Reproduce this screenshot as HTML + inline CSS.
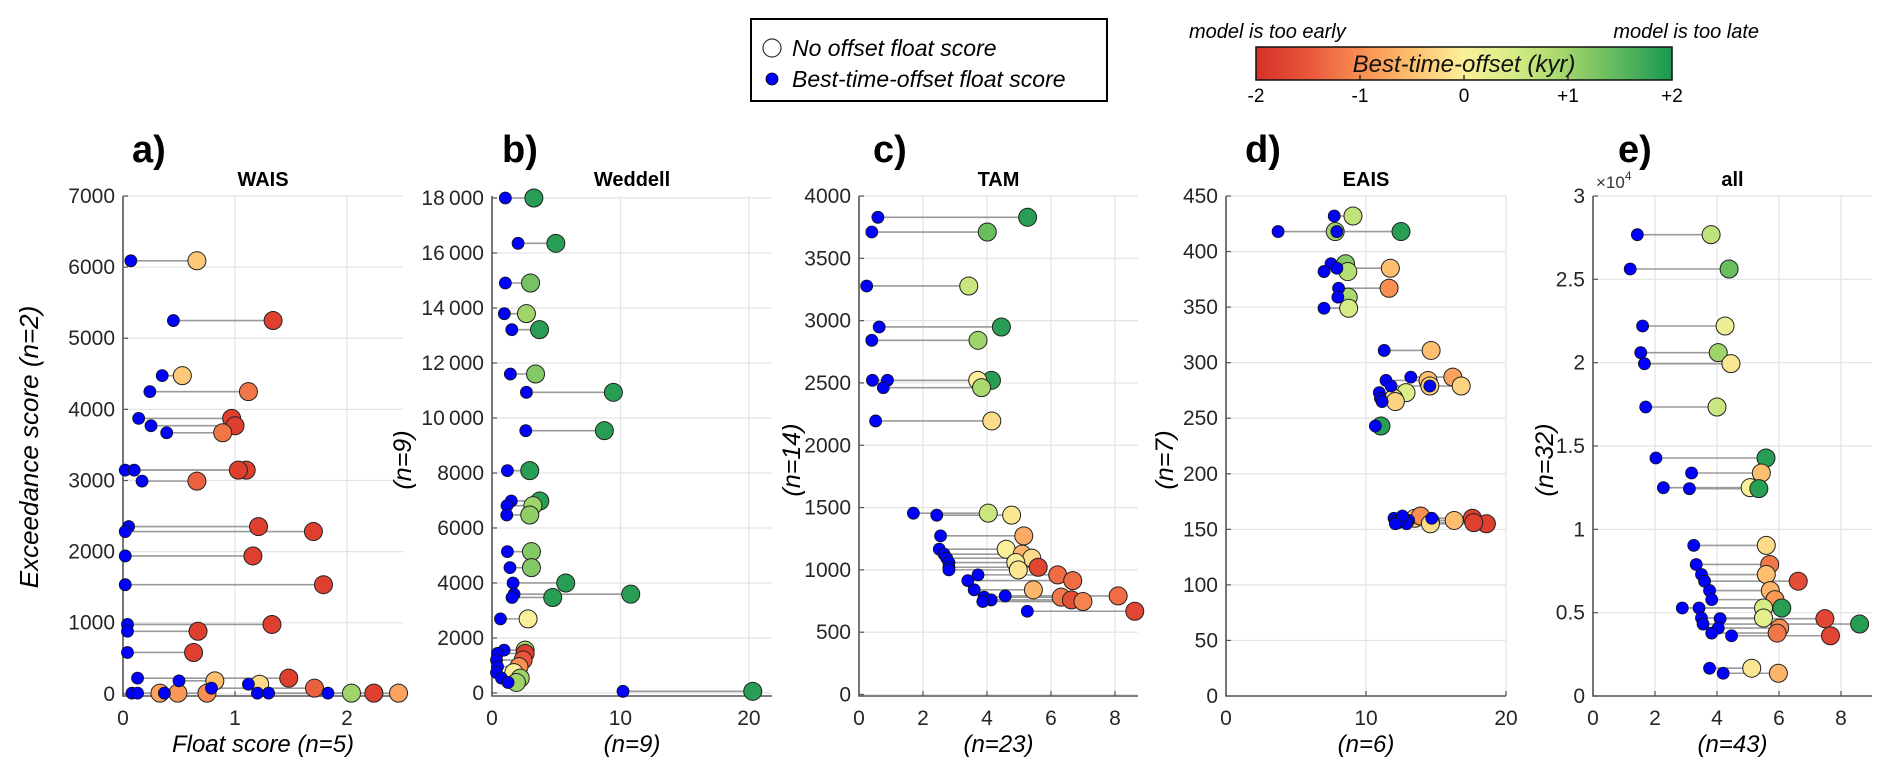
<!DOCTYPE html>
<html><head><meta charset="utf-8"><title>Float vs exceedance score</title>
<style>
html,body{margin:0;padding:0;background:#fff;}
svg{display:block;font-family:"Liberation Sans",Arial,sans-serif;}
</style></head>
<body>
<svg id="chart" width="1892" height="774" viewBox="0 0 1892 774" xmlns="http://www.w3.org/2000/svg">
<defs>
<linearGradient id="cbgrad" x1="0" x2="1" y1="0" y2="0">
<stop offset="0" stop-color="#d73027"/><stop offset="0.125" stop-color="#e8553a"/>
<stop offset="0.25" stop-color="#f98e52"/><stop offset="0.375" stop-color="#fdbf6f"/>
<stop offset="0.5" stop-color="#fbf09a"/><stop offset="0.625" stop-color="#d5ec84"/>
<stop offset="0.75" stop-color="#9fd46a"/><stop offset="0.875" stop-color="#5cb85e"/>
<stop offset="1" stop-color="#1a9850"/>
</linearGradient>
</defs>
<g>
<rect x="751" y="19" width="356" height="82" fill="#fff" stroke="#000" stroke-width="2"/>
<circle cx="772" cy="48" r="9" fill="#fff" stroke="#333" stroke-width="1.2"/>
<text x="792" y="56" font-size="23" font-style="italic" fill="#000">No offset float score</text>
<circle cx="772" cy="79" r="6" fill="#0000ff" stroke="#000" stroke-width="0.8"/>
<text x="792" y="87" font-size="23" font-style="italic" fill="#000">Best-time-offset float score</text>
</g>
<g>
<text x="1189" y="38" font-size="20" font-style="italic" fill="#000">model is too early</text>
<text x="1759" y="38" font-size="20" font-style="italic" fill="#000" text-anchor="end">model is too late</text>
<rect x="1256" y="47" width="416" height="33" fill="url(#cbgrad)" stroke="#111" stroke-width="1.5"/>
<text x="1464" y="72" font-size="24" font-style="italic" fill="#111" text-anchor="middle">Best-time-offset (kyr)</text>
<g id="cbticks"></g>
</g>
<g id="panels"></g>
</svg>
<script>
// Panel a (WAIS)
const yA = [6089,5249,4474,4249,3873,3770,3671,3146,3146,2991,2352,2282,1939,1535,976,880,582,221,183,135,80,10,10,10,10,10,10];
const blueA = [0.07,0.45,0.35,0.24,0.14,0.25,0.39,0.02,0.10,0.17,0.05,0.02,0.02,0.02,0.04,0.04,0.04,0.13,0.50,1.12,0.79,0.08,0.13,0.37,1.20,1.30,1.83];
const origA = [0.66,1.34,0.53,1.12,0.97,1.00,0.89,1.10,1.03,0.66,1.21,1.70,1.16,1.79,1.33,0.67,0.63,1.48,0.82,1.22,1.71,0.33,0.49,0.75,2.04,2.24,2.46];
const offA = [-0.4,-1.8,-0.4,-1.2,-1.8,-1.8,-1.2,-1.8,-1.8,-1.4,-1.8,-1.8,-1.8,-1.8,-1.8,-1.8,-1.8,-1.8,-0.5,-0.2,-1.4,-0.8,-0.9,-1.0,1.0,-1.8,-0.8];
// Panel b (Weddell)
const yB = [18000,16352,14909,13794,13212,11600,10933,9539,8085,6982,6812,6473,5139,4558,4000,3593,3473,2695,1557,1437,1198,958,742,539,383,60];
const blueB = [1.04,2.03,1.04,0.96,1.54,1.43,2.68,2.63,1.2,1.5,1.17,1.15,1.2,1.4,1.64,1.72,1.56,0.66,0.94,0.43,0.35,0.43,0.35,0.74,1.25,10.2];
const origB = [3.26,4.97,3.0,2.68,3.70,3.39,9.45,8.75,2.94,3.72,3.18,2.94,3.07,3.07,5.74,10.8,4.73,2.81,2.58,2.58,2.42,2.1,1.7,2.2,1.9,20.3];
const offB = [1.9,1.9,1.3,1.0,1.9,1.2,1.9,1.9,1.9,1.9,1.0,1.1,1.2,1.2,1.9,1.9,1.9,0,1.0,-1.8,-1.5,-1.0,0,1.0,1.0,1.9];
// Panel c (TAM)
const yC = [3829,3711,3278,2949,2842,2521,2521,2462,2195,1455,1439,1273,1166,1126,1094,1059,1021,1000,960,914,840,791,781,759,746,668];
const blueC = [0.59,0.40,0.24,0.63,0.40,0.42,0.89,0.76,0.52,1.70,2.43,2.55,2.51,2.66,2.74,2.81,2.81,2.81,3.72,3.4,3.6,4.57,3.91,4.13,3.87,5.26];
const origC = [5.27,4.01,3.43,4.45,3.72,4.14,3.71,3.83,4.15,4.04,4.77,5.15,4.6,5.1,5.4,4.9,5.6,4.98,6.21,6.68,5.45,8.1,6.32,6.64,7.0,8.62];
const offC = [1.9,1.4,0.6,1.9,1.0,1.9,0,0.9,-0.2,0.6,-0.1,-0.7,0,-0.6,-0.2,0,-1.7,-0.1,-1.3,-1.3,-0.6,-1.3,-1.2,-1.6,-1.1,-1.7];
// Panel d (EAIS)
const yD = [432,418,418,389,385,382,367,359,349,311,287,284,279,279,273,268,265,243,160,157,158,160,155,156,162,155];
const blueD = [7.73,3.72,7.92,7.5,7.92,7.0,8.04,7.99,7.0,11.3,13.2,11.43,14.56,11.79,10.95,11.03,11.15,10.67,12.0,12.1,13.05,14.7,12.9,12.3,12.6,12.1];
const origD = [9.07,12.5,7.8,8.54,11.74,8.7,11.65,8.73,8.76,14.65,16.2,14.43,16.8,14.56,12.86,11.98,12.1,11.07,13.5,14.6,16.3,17.6,18.6,17.7,13.9,14.6];
const offD = [0.7,1.9,1.0,1.2,-0.5,0.8,-1.0,0.9,0.5,-0.5,-0.8,-0.5,-0.3,-0.3,0.4,-0.2,-0.3,1.9,-0.4,-1.2,-0.5,-1.8,-1.8,-1.8,-1.0,-0.2];
// Panel e (all)
const yE = [27680,25620,22200,20600,19940,17340,14280,13380,12500,12440,9036,7892,7289,6888,6325,5783,5281,5281,4679,4639,4317,4076,3775,3615,1667,1365];
const blueE = [1.43,1.2,1.6,1.54,1.66,1.7,2.03,3.18,2.27,3.11,3.25,3.33,3.5,3.6,3.76,3.83,2.88,3.42,3.5,4.1,3.55,4.04,3.83,4.47,3.76,4.2];
const origE = [3.81,4.39,4.26,4.04,4.45,4.0,5.58,5.43,5.07,5.35,5.59,5.7,5.59,6.62,5.72,5.87,5.5,6.09,5.5,7.48,8.6,6.02,5.94,7.66,5.12,5.98];
const offE = [0.7,1.4,0.2,1.0,-0.1,0.6,1.9,-0.5,0,1.9,-0.2,-1.2,-0.5,-1.6,-0.6,-0.9,0.5,1.9,0.3,-1.7,1.9,-1.0,-1.2,-1.7,-0.1,-0.6];
// Tick arrays
const xTicksA = [0,1,2], yTicksA = [0,1000,2000,3000,4000,5000,6000,7000];
const xTicksB = [0,10,20], yTicksB = [0,2000,4000,6000,8000,10000,12000,14000,16000,18000];
const xTicksC = [0,2,4,6,8], yTicksC = [0,500,1000,1500,2000,2500,3000,3500,4000];
const xTicksD = [0,10,20], yTicksD = [0,50,100,150,200,250,300,350,400,450];
const xTicksE = [0,2,4,6,8], yTicksE = [0,5000,10000,15000,20000,25000,30000];
const yTickLabelsB = ["0","2000","4000","6000","8000","10\u2009000","12\u2009000","14\u2009000","16\u2009000","18\u2009000"];
const yTickLabelsE = ["0","0.5","1","1.5","2","2.5","3"];
const cbTicks = [-2,-1,0,1,2];
const cbTickLabels = ["-2","-1","0","+1","+2"];

const NS = "http://www.w3.org/2000/svg";
function mk(tag, attrs, parent){const e=document.createElementNS(NS,tag);for(const k in attrs)e.setAttribute(k,attrs[k]);parent.appendChild(e);return e;}
const stops=[[-2,[215,48,39]],[-1.5,[232,85,58]],[-1,[249,142,82]],[-0.5,[253,191,111]],[0,[251,240,154]],[0.5,[213,236,132]],[1,[159,212,106]],[1.5,[92,184,94]],[2,[26,152,80]]];
function cmap(v){v=Math.max(-2,Math.min(2,v));for(let i=0;i<stops.length-1;i++){const a=stops[i],b=stops[i+1];if(v<=b[0]){const t=(v-a[0])/(b[0]-a[0]);const c=a[1].map((x,j)=>Math.round(x+(b[1][j]-x)*t));return `rgb(${c[0]},${c[1]},${c[2]})`;}}return "rgb(26,152,80)";}

const cbG=document.getElementById('cbticks');
const cbX=v=>1256+(v+2)/4*416;
cbTicks.forEach((v,i)=>{
  const t=mk('line',{x1:cbX(v),x2:cbX(v),y1:80,y2:75,stroke:'#111','stroke-width':1.2},cbG);
  
  
  const l=mk('text',{x:cbX(v),y:102,'font-size':19,'text-anchor':'middle',fill:'#000'},cbG);
  l.textContent=cbTickLabels[i];
  
  
});

const panels=[
 {id:'a',title:'WAIS',x0:123,x1:403,xmin:0,xmax:2.5,ymin:-30,ymax:7000,ys:yA,bs:blueA,os:offA,or:origA,xt:xTicksA,yt:yTicksA,ytl:null,xlab:'Float score ',xn:'5',ylab:'Exceedance score ',yn:'2',ylx:38,letx:132},
 {id:'b',title:'Weddell',x0:492,x1:772,xmin:0,xmax:21.8,ymin:-110,ymax:18073,ys:yB,bs:blueB,os:offB,or:origB,xt:xTicksB,yt:yTicksB,ytl:yTickLabelsB,xlab:'',xn:'9',ylab:'',yn:'9',ylx:411,letx:502},
 {id:'c',title:'TAM',x0:859,x1:1138,xmin:0,xmax:8.72,ymin:-12,ymax:4000,ys:yC,bs:blueC,os:offC,or:origC,xt:xTicksC,yt:yTicksC,ytl:null,xlab:'',xn:'23',ylab:'',yn:'14',ylx:800,letx:873},
 {id:'d',title:'EAIS',x0:1226,x1:1506,xmin:0,xmax:20,ymin:0,ymax:450,ys:yD,bs:blueD,os:offD,or:origD,xt:xTicksD,yt:yTicksD,ytl:null,xlab:'',xn:'6',ylab:'',yn:'7',ylx:1173,letx:1245},
 {id:'e',title:'all',x0:1593,x1:1872,xmin:0,xmax:9.0,ymin:0,ymax:30000,ys:yE,bs:blueE,os:offE,or:origE,xt:xTicksE,yt:yTicksE,ytl:yTickLabelsE,xlab:'',xn:'43',ylab:'',yn:'32',ylx:1553,letx:1618}
];
const TOP=196,BOT=696;
const root=document.getElementById('panels');
panels.forEach(p=>{
  const g=mk('g',{},root);
  
  
  const X=v=>p.x0+(v-p.xmin)/(p.xmax-p.xmin)*(p.x1-p.x0);
  const Y=v=>BOT-(v-p.ymin)/(p.ymax-p.ymin)*(BOT-TOP);
  p.xt.forEach(v=>{if(v>p.xmin){const l=mk('line',{x1:X(v),x2:X(v),y1:TOP,y2:BOT,stroke:'#e3e3e3','stroke-width':1.2},g);
    
    }});
  p.yt.forEach(v=>{const l=mk('line',{x1:p.x0,x2:p.x1,y1:Y(v),y2:Y(v),stroke:'#e3e3e3','stroke-width':1.2},g);
    
    });
  const ax=mk('path',{d:`M${p.x0},${TOP} V${BOT} H${p.x1}`,fill:'none',stroke:'#555','stroke-width':1.6},g);
  
  
  p.xt.forEach(v=>{
    mk('line',{x1:X(v),x2:X(v),y1:BOT,y2:BOT-5,stroke:'#555','stroke-width':1.2},g);
    const t=mk('text',{x:X(v),y:725,'font-size':21,'text-anchor':'middle',fill:'#262626'},g);
    t.textContent=String(v);
    
    
  });
  p.yt.forEach((v,i)=>{
    mk('line',{x1:p.x0,x2:p.x0+5,y1:Y(v),y2:Y(v),stroke:'#555','stroke-width':1.2},g);
    const t=mk('text',{x:p.x0-8,y:Y(v)+7,'font-size':21,'text-anchor':'end',fill:'#262626'},g);
    t.textContent=p.ytl?p.ytl[i]:String(v);
    
    
  });
  const ti=mk('text',{x:(p.x0+p.x1)/2,y:186,'font-size':20,'font-weight':'bold','text-anchor':'middle',fill:'#000'},g);
  ti.textContent=p.title;
  
  
  const le=mk('text',{x:p.letx,y:162,'font-size':38,'font-weight':'bold',fill:'#000'},g);
  le.textContent=p.id+')';
  
  
  if(p.id==='e'){const ex=mk('text',{x:1596,y:188,'font-size':17,fill:'#333'},g);
    ex.innerHTML='\u00d710<tspan dy="-8" font-size="12">4</tspan>';
    
    }
  const xl=mk('text',{x:(p.x0+p.x1)/2,y:752,'font-size':24,'font-style':'italic','text-anchor':'middle',fill:'#000'},g);
  xl.textContent=p.xlab+'(n='+p.xn+')';
  
  
  const ycy=p.id==='a'?447:460;
  const yl=mk('text',{x:p.ylx,y:ycy,'font-size':p.id==='a'?26:25,'font-style':'italic','text-anchor':'middle',fill:'#000',transform:`rotate(-90 ${p.ylx} ${ycy})`},g);
  yl.textContent=p.ylab+'(n='+p.yn+')';
  
  
  p.ys.forEach((y,i)=>{
    const l=mk('line',{x1:X(p.bs[i]),x2:X(p.or[i]),y1:Y(y),y2:Y(y),stroke:'#9a9a9a','stroke-width':1.6},g);
    
    
  });
  p.ys.forEach((y,i)=>{
    const c=mk('circle',{cx:X(p.or[i]),cy:Y(y),r:9,fill:cmap(p.os[i]),stroke:'#222','stroke-width':1},g);
    
    
  });
  p.ys.forEach((y,i)=>{
    const c=mk('circle',{cx:X(p.bs[i]),cy:Y(y),r:6,fill:'#0000ff',stroke:'#111','stroke-width':0.8},g);
    
    
  });
});
</script>
</body></html>
